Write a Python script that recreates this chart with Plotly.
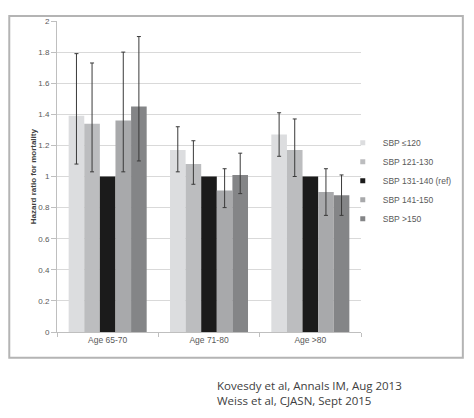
import plotly.graph_objects as go

groups = ["Age 65-70", "Age 71-80", "Age >80"]
series_names = ["SBP \u2264120", "SBP 121-130", "SBP 131-140 (ref)", "SBP 141-150", "SBP >150"]
hr_le120 = [1.39, 1.17, 1.27]
hr_121_130 = [1.34, 1.08, 1.17]
hr_131_140 = [1.00, 1.00, 1.00]
hr_141_150 = [1.36, 0.91, 0.90]
hr_gt150 = [1.45, 1.01, 0.88]
hi_le120 = [1.79, 1.32, 1.41]
hi_121_130 = [1.73, 1.23, 1.37]
hi_141_150 = [1.80, 1.05, 1.05]
hi_gt150 = [1.90, 1.15, 1.01]
lo_le120 = [1.08, 1.03, 1.13]
lo_121_130 = [1.03, 0.95, 1.00]
lo_141_150 = [1.03, 0.80, 0.75]
lo_gt150 = [1.10, 0.89, 0.75]
citations = ["Kovesdy et al, Annals IM, Aug 2013", "Weiss et al, CJASN, Sept 2015"]

colors = ["#dcdddf", "#bcbdbf", "#1b1b1b", "#a8a9ab", "#848587"]
vals = [hr_le120, hr_121_130, hr_131_140, hr_141_150, hr_gt150]
his = [hi_le120, hi_121_130, None, hi_141_150, hi_gt150]
los = [lo_le120, lo_121_130, None, lo_141_150, lo_gt150]

fig = go.Figure()
for name, v, hi, lo, c in zip(series_names, vals, his, los, colors):
    err = None
    if hi is not None:
        err = dict(type="data", symmetric=False,
                   array=[h - x for h, x in zip(hi, v)],
                   arrayminus=[x - l for x, l in zip(v, lo)],
                   color="#3a3a3a", thickness=1, width=2)
    fig.add_trace(go.Bar(x=groups, y=v, name=name, marker=dict(color=c, line=dict(width=0)),
                         error_y=err, showlegend=False))
    fig.add_trace(go.Scatter(x=[None], y=[None], mode="markers", name=name,
                             marker=dict(symbol="square", size=5, color=c)))

fig.update_layout(
    width=458, height=402,
    margin=dict(l=49, r=104, t=9, b=78),
    paper_bgcolor="white", plot_bgcolor="white",
    barmode="group", bargap=0.23, bargroupgap=0.0,
    font=dict(family="Liberation Sans", size=8, color="#595959"),
    legend=dict(x=0.94, y=0.655, xanchor="left", yanchor="top",
                font=dict(size=8.5, color="#595959"), itemwidth=30,
                tracegroupgap=0, bgcolor="rgba(0,0,0,0)"),
    xaxis=dict(showgrid=False, showline=True, linecolor="#bfbfbf", linewidth=1,
               ticks="outside", tickson="boundaries", ticklen=4, tickcolor="#bfbfbf",
               tickfont=dict(size=8.5, color="#595959")),
    yaxis=dict(range=[0, 2], dtick=0.2, showgrid=True, gridcolor="#d9d9d9", gridwidth=1.3,
               showline=True, linecolor="#bfbfbf", linewidth=1, ticks="outside",
               ticklen=5, tickcolor="#bfbfbf", zeroline=False,
               tickfont=dict(size=8, color="#595959")),
    shapes=[dict(type="rect", xref="paper", yref="paper", x0=-0.157, x1=1.335,
                 y0=-0.0825, y1=1.016, line=dict(color="#b4b4b4", width=2),
                 fillcolor="rgba(0,0,0,0)", layer="above")],
    annotations=[
        dict(text="<b>Hazard ratio for mortality</b>", textangle=-90, xref="paper", yref="paper",
             x=-0.098, y=0.5, showarrow=False, font=dict(size=8, color="#404040")),
        dict(text=citations[0] + "<br>" + citations[1], xref="paper", yref="paper",
             x=0.52, y=-0.142, xanchor="left", yanchor="top", align="left", showarrow=False,
             font=dict(family="Open Sans", size=11.5, color="#404040")),
    ],
)
fig.write_html("out.html")
